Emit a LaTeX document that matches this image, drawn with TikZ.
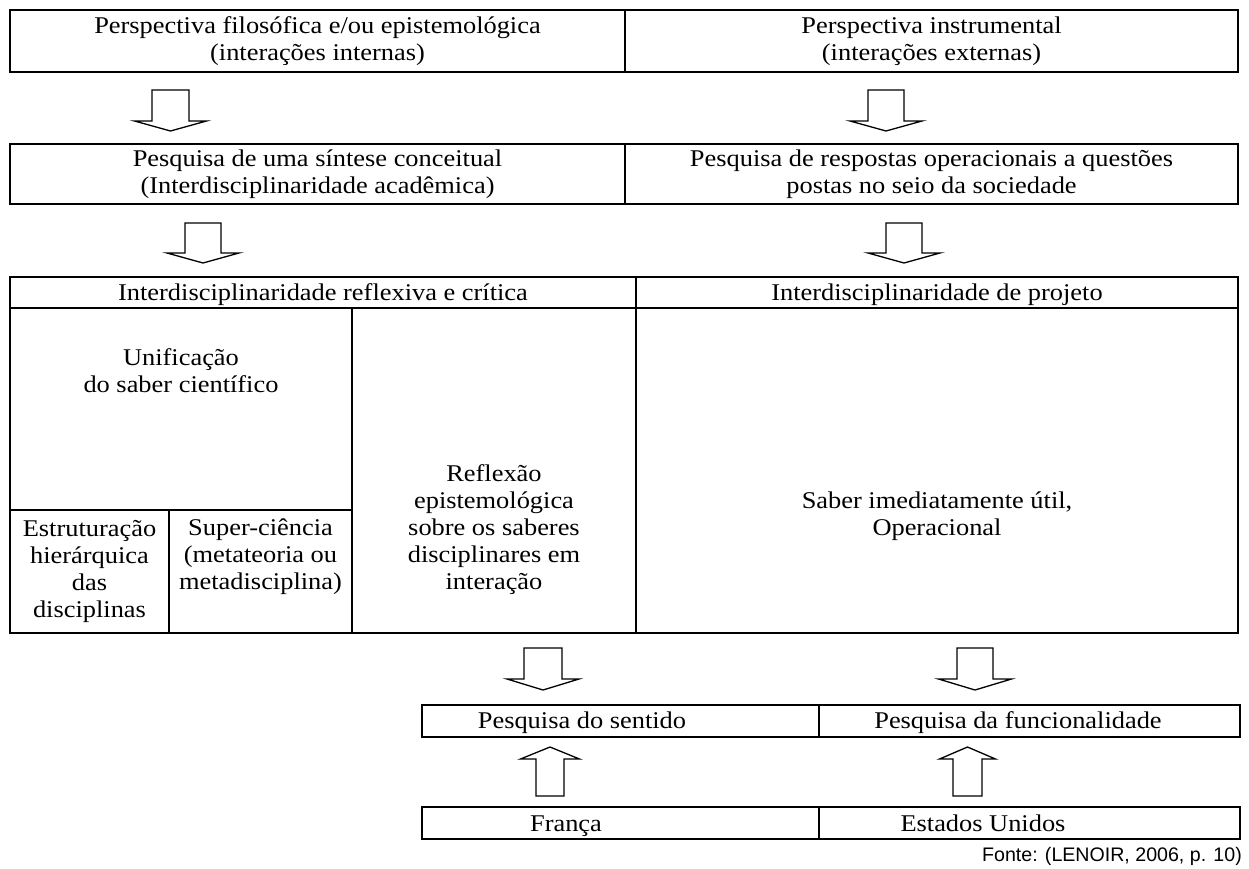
\documentclass[tikz,border=0pt]{standalone}
\usepackage{fontspec}
\setmainfont[FakeStretch=1.1]{Liberation Serif}
\newfontfamily\fontesans{Liberation Sans}
\tikzset{
  cell/.style={draw, line width=2pt, inner sep=0pt, align=center, font=\fontsize{24}{27}\selectfont},
  txt/.style={inner sep=0pt, align=center, font=\fontsize{24}{27}\selectfont},
  arrowline/.style={draw, line width=1.3pt, line join=miter, fill=white},
  pics/downarr/.style args={#1/#2/#3/#4}{code={
    \path[arrowline] (-#1,0) -- (#1,0) -- (#1,#3) -- (#2,#3) -- (0,#3+#4) -- (-#2,#3) -- (-#1,#3) -- cycle;}},
  pics/uparr/.style args={#1/#2/#3/#4}{code={
    \path[arrowline] (-#1,0) -- (#1,0) -- (#1,-#3) -- (#2,-#3) -- (0,-#3-#4) -- (-#2,-#3) -- (-#1,-#3) -- cycle;}}
}
\begin{document}
\begin{tikzpicture}[x=1pt,y=-1pt]
\useasboundingbox (0,0) rectangle (1249,868);
% row 1
\node[cell, minimum width=615pt, minimum height=62pt] (pfil) at (317.5,41) {Perspectiva filosófica e/ou epistemológica\\(interações internas)};
\node[cell, minimum width=613pt, minimum height=62pt] (pins) at (931.5,41) {Perspectiva instrumental\\(interações externas)};
% row 2
\node[cell, minimum width=615pt, minimum height=60pt] (psin) at (317.5,174) {Pesquisa de uma síntese conceitual\\(Interdisciplinaridade acadêmica)};
\node[cell, minimum width=613pt, minimum height=60pt] (pres) at (931.5,174) {Pesquisa de respostas operacionais a questões\\postas no seio da sociedade};
% table
\node[cell, minimum width=626pt, minimum height=31pt] (hrefl) at (323,292.5) {};
\node[txt, anchor=base] (threfl) at (323,300.5) {Interdisciplinaridade reflexiva e crítica};
\node[cell, minimum width=602pt, minimum height=31pt] (hproj) at (937,292.5) {};
\node[txt, anchor=base] (thproj) at (937,300.5) {Interdisciplinaridade de projeto};
\node[cell, minimum width=342pt, minimum height=202pt] (unif) at (181,409) {};
\node[txt] (tunif) at (181,371) {Unificação\\do saber científico};
\node[cell, minimum width=159pt, minimum height=123pt] (estr) at (89.5,571.5) {Estruturação\\hierárquica\\das\\disciplinas};
\node[cell, minimum width=183pt, minimum height=123pt] (super) at (260.5,571.5) {};
\node[txt] (tsuper) at (260.5,557) {Super-ciência\\(metateoria ou\\metadisciplina)};
\node[cell, minimum width=284pt, minimum height=325pt] (refl) at (494,470.5) {};
\node[txt] (trefl) at (494,530) {Reflexão\\epistemológica\\sobre os saberes\\disciplinares em\\interação};
\node[cell, minimum width=602pt, minimum height=325pt] (saber) at (937,470.5) {};
\node[txt] (tsaber) at (937,516) {Saber imediatamente útil,\\Operacional};
% bottom
\node[cell, minimum width=397pt, minimum height=32pt] (psent) at (620.5,721) {};
\node[txt, anchor=base] (tpsent) at (582,728) {Pesquisa do sentido};
\node[cell, minimum width=421pt, minimum height=32pt] (pfunc) at (1029.5,721) {};
\node[txt, anchor=base] (tpfunc) at (1018,728) {Pesquisa da funcionalidade};
\node[cell, minimum width=397pt, minimum height=32pt] (fr) at (620.5,823) {};
\node[txt, anchor=base] (tfr) at (566,831) {França};
\node[cell, minimum width=421pt, minimum height=32pt] (eu) at (1029.5,823) {};
\node[txt, anchor=base] (teu) at (983,831) {Estados Unidos};
\node[anchor=base east, inner sep=0pt, font=\fontesans\fontsize{19.6}{24}\selectfont] (fonte) at (1242,861) {Fonte: (LENOIR, 2006, p. 10)};
% block arrows
\pic at (170.5,90) {downarr=18.5/36/31/10};
\pic at (886,90) {downarr=18/36/31/10};
\pic at (203,223) {downarr=18/36/30/10};
\pic at (904,223) {downarr=18/36/30/10};
\pic at (543,648) {downarr=19/36/31/11};
\pic at (975,648) {downarr=18/36.5/31/11};
\pic at (550,796) {uparr=14/29.5/37/12};
\pic at (967.5,796) {uparr=14.5/28/37/12};
\end{tikzpicture}
\end{document}
